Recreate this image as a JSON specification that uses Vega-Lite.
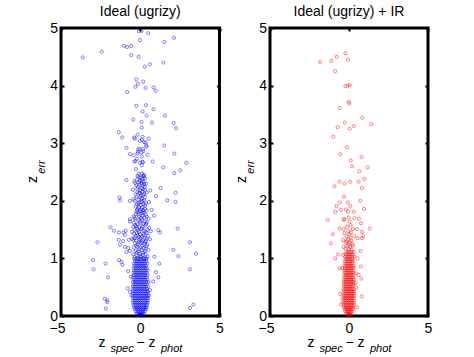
{
  "$schema": "https://vega.github.io/schema/vega-lite/v6.json",
  "background": "white",
  "padding": {"left": 23, "top": 3, "right": 5, "bottom": 0},
  "bounds": "flush",
  "spacing": 50,
  "config": {
    "font": "Liberation Sans",
    "view": {"stroke": "black", "strokeWidth": 3},
    "axis": {"grid": false, "domain": false, "labelFlush": false, "labelFont": "Liberation Sans", "labelFontSize": 14, "labelColor": "black", "tickColor": "black", "tickSize": -3, "tickWidth": 2, "titleColor": "black", "titleFontWeight": "normal", "titleFont": "Liberation Sans"},
    "title": {"font": "Liberation Sans", "fontSize": 14, "fontWeight": "normal", "color": "black", "baseline": "alphabetic", "offset": 2.5}
  },
  "datasets": {
    "L": [
      {"x":-0.08,"y":4.94},{"x":0.08,"y":4.95},{"x":0.51,"y":4.91},{"x":-0.02,"y":4.79},{"x":1.52,"y":4.76},{"x":2.13,"y":4.83},{"x":-1.03,"y":4.69},{"x":-0.82,"y":4.67},{"x":-0.57,"y":4.69},{"x":-2.43,"y":4.59},{"x":-3.63,"y":4.49},{"x":-0.57,"y":4.53},{"x":-0.1,"y":4.5},{"x":0.61,"y":4.37},{"x":0.29,"y":4.33},{"x":1.46,"y":4.4},{"x":-0.25,"y":4.11},{"x":0.19,"y":4.07},{"x":-0.15,"y":4.03},{"x":-0.3,"y":3.98},{"x":0.34,"y":3.96},{"x":0.84,"y":3.97},{"x":0.97,"y":3.91},{"x":-0.82,"y":3.89},{"x":-0.25,"y":3.65},{"x":0.36,"y":3.66},{"x":0.84,"y":3.59},{"x":0.15,"y":3.55},{"x":0.4,"y":3.48},{"x":1.56,"y":3.48},{"x":-0.44,"y":3.41},{"x":0.08,"y":3.37},{"x":0.74,"y":3.36},{"x":2.11,"y":3.35},{"x":2.26,"y":3.26},
      {"x":0.1,"y":3.27},{"x":-1.35,"y":3.19},{"x":-1.14,"y":3.1},{"x":-0.38,"y":3.1},{"x":-0.17,"y":3.15},{"x":0.15,"y":3.11},{"x":0.53,"y":3.08},{"x":0.1,"y":3.06},{"x":0.25,"y":3.02},{"x":-0.34,"y":3.08},{"x":-0.02,"y":3.04},{"x":0.34,"y":3.01},
      {"x":-0.87,"y":2.92},{"x":0.38,"y":2.96},{"x":1.52,"y":2.96},{"x":0.17,"y":2.9},{"x":-0.04,"y":2.9},{"x":-0.13,"y":2.89},{"x":0.4,"y":2.94},{"x":0.19,"y":2.86},{"x":-0.15,"y":2.85},{"x":-0.65,"y":2.81},{"x":-0.42,"y":2.79},{"x":0.08,"y":2.84},{"x":-0.17,"y":2.82},{"x":0.46,"y":2.8},{"x":2.15,"y":2.82},{"x":0.1,"y":2.77},{"x":-0.21,"y":2.73},{"x":-0.3,"y":2.69},{"x":0.13,"y":2.68},{"x":-0.38,"y":2.68},{"x":0.17,"y":2.67},{"x":0.78,"y":2.68},{"x":2.91,"y":2.66},{"x":0.1,"y":2.62},{"x":-0.02,"y":2.66},{"x":1.46,"y":2.58},{"x":2.53,"y":2.53},{"x":-0.27,"y":2.55},{"x":2.15,"y":2.48},{"x":-0.11,"y":2.47},{"x":0.1,"y":2.47},{"x":0.21,"y":2.42},{"x":0.25,"y":2.44},{"x":-0.06,"y":2.41},{"x":0.15,"y":2.38},{"x":-0.02,"y":2.35},{"x":0.3,"y":2.39},
      {"x":-0.87,"y":2.36},{"x":-0.38,"y":2.34},{"x":0.36,"y":2.3},{"x":0.08,"y":2.3},{"x":-0.13,"y":2.24},{"x":0.08,"y":2.22},{"x":0.3,"y":2.19},{"x":1.28,"y":2.22},{"x":0.63,"y":2.18},{"x":-0.46,"y":2.19},{"x":2.23,"y":2.14},{"x":-0.02,"y":2.13},{"x":0.19,"y":2.1},{"x":0.4,"y":2.14},{"x":0.99,"y":2.08},{"x":-1.31,"y":2.06},{"x":-1.27,"y":2.01},{"x":-0.65,"y":2.0},{"x":-0.42,"y":2.03},{"x":1.71,"y":2.01},{"x":2.23,"y":1.98},{"x":-0.02,"y":2.06},{"x":0.08,"y":1.98},{"x":0.25,"y":2.01},{"x":0.55,"y":1.98},{"x":-0.13,"y":1.96},{"x":-0.08,"y":1.89},{"x":0.19,"y":1.84},{"x":0.4,"y":1.83},{"x":0.72,"y":1.84},{"x":-0.23,"y":1.81},{"x":0.08,"y":1.78},{"x":-0.06,"y":1.72},{"x":0.25,"y":1.71},{"x":0.87,"y":1.74},{"x":-0.36,"y":1.7},
      {"x":0.02,"y":2.4},{"x":-0.2,"y":2.37},{"x":0.2,"y":2.33},{"x":-0.05,"y":2.28},{"x":0.15,"y":2.26},{"x":-0.25,"y":2.27},{"x":0.28,"y":2.24},{"x":0.0,"y":2.18},{"x":-0.18,"y":2.15},{"x":0.12,"y":2.16},{"x":-0.3,"y":2.11},{"x":0.05,"y":2.09},{"x":0.3,"y":2.06},{"x":-0.1,"y":2.02},{"x":0.14,"y":2.0},{"x":-0.22,"y":1.94},{"x":0.02,"y":1.93},{"x":0.3,"y":1.92},{"x":-0.15,"y":1.87},{"x":0.12,"y":1.88},{"x":0.0,"y":1.82},{"x":0.25,"y":1.79},{"x":-0.12,"y":1.76},{"x":0.15,"y":1.74},{"x":0.35,"y":1.76},{"x":-0.28,"y":1.77},{"x":0.05,"y":1.7},
      {"x":-0.16,"y":2.43},{"x":0.2,"y":2.45},{"x":-0.32,"y":2.31},{"x":0.1,"y":2.34},{"x":-0.08,"y":2.32},{"x":0.24,"y":2.29},{"x":-0.19,"y":2.21},{"x":0.18,"y":2.2},{"x":-0.06,"y":2.14},{"x":0.26,"y":2.12},{"x":-0.24,"y":2.07},{"x":0.1,"y":2.04},{"x":-0.35,"y":2.0},{"x":0.36,"y":1.95},{"x":-0.05,"y":1.97},{"x":0.2,"y":1.94},{"x":-0.3,"y":1.9},{"x":0.07,"y":1.85},{"x":-0.2,"y":1.84},{"x":0.3,"y":1.86},{"x":-0.1,"y":1.8},{"x":0.16,"y":1.8},{"x":-0.4,"y":1.73},{"x":0.42,"y":1.72},
      {"x":-1.88,"y":1.54},{"x":-1.66,"y":1.48},{"x":-1.35,"y":1.45},{"x":-1.06,"y":1.45},{"x":-0.91,"y":1.48},{"x":-0.97,"y":1.41},{"x":-0.65,"y":1.64},{"x":-0.65,"y":1.68},{"x":-0.51,"y":1.46},{"x":2.36,"y":1.52},{"x":1.14,"y":1.49},{"x":1.25,"y":1.45},{"x":-2.7,"y":1.28},{"x":-1.35,"y":1.32},{"x":-1.08,"y":1.3},{"x":-1.28,"y":1.24},{"x":-0.72,"y":1.32},{"x":-0.51,"y":1.34},{"x":3.14,"y":1.28},{"x":2.09,"y":1.15},{"x":3.52,"y":1.08},{"x":2.41,"y":1.04},{"x":-0.97,"y":1.2},{"x":-0.76,"y":1.18},{"x":-0.87,"y":1.11},{"x":-0.65,"y":1.13},{"x":0.89,"y":1.03},{"x":1.2,"y":0.91},
      {"x":-0.31,"y":1.68},{"x":-0.12,"y":1.66},{"x":0.11,"y":1.67},{"x":0.28,"y":1.64},{"x":0.52,"y":1.69},{"x":-0.41,"y":1.62},{"x":-0.18,"y":1.59},{"x":0.02,"y":1.61},{"x":0.21,"y":1.6},{"x":0.42,"y":1.63},{"x":-0.44,"y":1.55},{"x":-0.26,"y":1.56},{"x":-0.06,"y":1.54},{"x":0.16,"y":1.55},{"x":0.33,"y":1.57},{"x":0.57,"y":1.53},{"x":-0.36,"y":1.5},{"x":-0.14,"y":1.49},{"x":0.06,"y":1.51},{"x":0.24,"y":1.48},{"x":0.46,"y":1.5},{"x":0.66,"y":1.47},{"x":-0.39,"y":1.43},{"x":-0.21,"y":1.44},{"x":-0.01,"y":1.42},{"x":0.19,"y":1.43},{"x":0.41,"y":1.44},{"x":-0.29,"y":1.38},{"x":-0.09,"y":1.37},{"x":0.12,"y":1.38},{"x":0.31,"y":1.36},{"x":0.49,"y":1.39},{"x":-0.44,"y":1.32},{"x":-0.24,"y":1.31},{"x":-0.04,"y":1.33},{"x":0.14,"y":1.31},{"x":0.36,"y":1.3},{"x":0.61,"y":1.33},{"x":-0.34,"y":1.26},{"x":-0.16,"y":1.25},{"x":0.04,"y":1.27},{"x":0.26,"y":1.25},{"x":0.44,"y":1.24},{"x":-0.41,"y":1.19},{"x":-0.19,"y":1.2},{"x":0.01,"y":1.19},{"x":0.22,"y":1.18},{"x":0.39,"y":1.21},{"x":-0.31,"y":1.13},{"x":-0.11,"y":1.12},{"x":0.09,"y":1.14},{"x":0.29,"y":1.12},{"x":0.51,"y":1.15},{"x":-0.46,"y":1.07},{"x":-0.24,"y":1.06},{"x":-0.04,"y":1.08},{"x":0.16,"y":1.06},{"x":0.34,"y":1.08},{"x":-0.36,"y":1.02},{"x":-0.14,"y":1.01},{"x":0.06,"y":1.03},{"x":0.24,"y":1.01},{"x":0.46,"y":1.03},
      {"x":-0.02,"y":1.64},{"x":0.38,"y":1.6},{"x":-0.32,"y":1.58},{"x":0.12,"y":1.52},{"x":-0.2,"y":1.52},{"x":0.34,"y":1.46},{"x":-0.08,"y":1.46},{"x":0.22,"y":1.4},{"x":-0.18,"y":1.4},{"x":0.02,"y":1.35},{"x":0.4,"y":1.34},{"x":-0.36,"y":1.35},{"x":0.08,"y":1.29},{"x":-0.1,"y":1.28},{"x":0.3,"y":1.28},{"x":-0.26,"y":1.22},{"x":0.12,"y":1.22},{"x":-0.06,"y":1.16},{"x":0.34,"y":1.17},{"x":-0.22,"y":1.1},{"x":0.18,"y":1.1},{"x":-0.02,"y":1.04},{"x":0.4,"y":1.0},
      {"x":-2.97,"y":0.97},{"x":-2.95,"y":0.81},{"x":-2.19,"y":0.91},{"x":-1.33,"y":0.97},{"x":-1.18,"y":0.94},{"x":-1.12,"y":0.89},{"x":3.14,"y":0.81},{"x":-2.03,"y":0.67},{"x":-0.76,"y":0.78},{"x":-0.59,"y":0.68},{"x":1.14,"y":0.67},{"x":0.99,"y":0.76},{"x":0.82,"y":0.6},{"x":-0.8,"y":0.48},{"x":-0.65,"y":0.42},{"x":-0.55,"y":0.36},{"x":0.61,"y":0.45},{"x":0.55,"y":0.36},{"x":-2.23,"y":0.3},{"x":-2.09,"y":0.27},{"x":-2.07,"y":0.24},{"x":-2.17,"y":0.13},{"x":3.35,"y":0.2},{"x":3.14,"y":0.14},
      {"x":-0.14,"y":0.02},{"x":-0.04,"y":0.02},{"x":0.06,"y":0.02},{"x":0.16,"y":0.02},
      {"x":-0.21,"y":0.05},{"x":-0.09,"y":0.05},{"x":0.02,"y":0.05},{"x":0.13,"y":0.05},{"x":0.23,"y":0.05},
      {"x":-0.28,"y":0.08},{"x":-0.16,"y":0.08},{"x":-0.05,"y":0.08},{"x":0.07,"y":0.08},{"x":0.18,"y":0.08},{"x":0.29,"y":0.08},
      {"x":-0.34,"y":0.12},{"x":-0.22,"y":0.12},{"x":-0.1,"y":0.12},{"x":0.02,"y":0.12},{"x":0.14,"y":0.12},{"x":0.26,"y":0.12},{"x":0.36,"y":0.12},
      {"x":-0.39,"y":0.15},{"x":-0.27,"y":0.15},{"x":-0.15,"y":0.15},{"x":-0.03,"y":0.15},{"x":0.09,"y":0.15},{"x":0.21,"y":0.15},{"x":0.33,"y":0.15},{"x":0.41,"y":0.15},
      {"x":-0.42,"y":0.19},{"x":-0.3,"y":0.19},{"x":-0.18,"y":0.19},{"x":-0.06,"y":0.19},{"x":0.06,"y":0.19},{"x":0.18,"y":0.19},{"x":0.3,"y":0.19},{"x":0.42,"y":0.19},
      {"x":-0.45,"y":0.23},{"x":-0.33,"y":0.23},{"x":-0.21,"y":0.23},{"x":-0.09,"y":0.23},{"x":0.03,"y":0.23},{"x":0.15,"y":0.23},{"x":0.27,"y":0.23},{"x":0.39,"y":0.23},{"x":0.47,"y":0.23},
      {"x":-0.46,"y":0.27},{"x":-0.34,"y":0.27},{"x":-0.22,"y":0.27},{"x":-0.1,"y":0.27},{"x":0.02,"y":0.27},{"x":0.14,"y":0.27},{"x":0.26,"y":0.27},{"x":0.38,"y":0.27},{"x":0.48,"y":0.27},
      {"x":-0.44,"y":0.31},{"x":-0.31,"y":0.31},{"x":-0.19,"y":0.31},{"x":-0.07,"y":0.31},{"x":0.05,"y":0.31},{"x":0.17,"y":0.31},{"x":0.29,"y":0.31},{"x":0.41,"y":0.31},{"x":0.5,"y":0.31},
      {"x":-0.47,"y":0.35},{"x":-0.35,"y":0.35},{"x":-0.23,"y":0.35},{"x":-0.11,"y":0.35},{"x":0.01,"y":0.35},{"x":0.13,"y":0.35},{"x":0.25,"y":0.35},{"x":0.37,"y":0.35},{"x":0.47,"y":0.35},
      {"x":-0.45,"y":0.39},{"x":-0.32,"y":0.39},{"x":-0.2,"y":0.39},{"x":-0.08,"y":0.39},{"x":0.04,"y":0.39},{"x":0.16,"y":0.39},{"x":0.28,"y":0.39},{"x":0.4,"y":0.39},{"x":0.49,"y":0.39},
      {"x":-0.46,"y":0.43},{"x":-0.34,"y":0.43},{"x":-0.22,"y":0.43},{"x":-0.1,"y":0.43},{"x":0.02,"y":0.43},{"x":0.14,"y":0.43},{"x":0.26,"y":0.43},{"x":0.38,"y":0.43},{"x":0.48,"y":0.43},
      {"x":-0.44,"y":0.47},{"x":-0.31,"y":0.47},{"x":-0.19,"y":0.47},{"x":-0.07,"y":0.47},{"x":0.05,"y":0.47},{"x":0.17,"y":0.47},{"x":0.29,"y":0.47},{"x":0.42,"y":0.47},
      {"x":-0.47,"y":0.51},{"x":-0.35,"y":0.51},{"x":-0.23,"y":0.51},{"x":-0.11,"y":0.51},{"x":0.01,"y":0.51},{"x":0.13,"y":0.51},{"x":0.25,"y":0.51},{"x":0.37,"y":0.51},{"x":0.5,"y":0.51},
      {"x":-0.43,"y":0.55},{"x":-0.3,"y":0.55},{"x":-0.18,"y":0.55},{"x":-0.06,"y":0.55},{"x":0.06,"y":0.55},{"x":0.18,"y":0.55},{"x":0.3,"y":0.55},{"x":0.43,"y":0.55},
      {"x":-0.45,"y":0.59},{"x":-0.33,"y":0.59},{"x":-0.21,"y":0.59},{"x":-0.09,"y":0.59},{"x":0.03,"y":0.59},{"x":0.15,"y":0.59},{"x":0.27,"y":0.59},{"x":0.4,"y":0.59},{"x":0.52,"y":0.59},
      {"x":-0.42,"y":0.63},{"x":-0.29,"y":0.63},{"x":-0.17,"y":0.63},{"x":-0.05,"y":0.63},{"x":0.07,"y":0.63},{"x":0.19,"y":0.63},{"x":0.31,"y":0.63},{"x":0.44,"y":0.63},
      {"x":-0.44,"y":0.67},{"x":-0.32,"y":0.67},{"x":-0.2,"y":0.67},{"x":-0.08,"y":0.67},{"x":0.04,"y":0.67},{"x":0.16,"y":0.67},{"x":0.28,"y":0.67},{"x":0.41,"y":0.67},
      {"x":-0.4,"y":0.71},{"x":-0.27,"y":0.71},{"x":-0.15,"y":0.71},{"x":-0.03,"y":0.71},{"x":0.09,"y":0.71},{"x":0.21,"y":0.71},{"x":0.33,"y":0.71},{"x":0.46,"y":0.71},
      {"x":-0.43,"y":0.75},{"x":-0.31,"y":0.75},{"x":-0.19,"y":0.75},{"x":-0.07,"y":0.75},{"x":0.05,"y":0.75},{"x":0.17,"y":0.75},{"x":0.29,"y":0.75},{"x":0.4,"y":0.75},
      {"x":-0.38,"y":0.79},{"x":-0.26,"y":0.79},{"x":-0.14,"y":0.79},{"x":-0.02,"y":0.79},{"x":0.1,"y":0.79},{"x":0.22,"y":0.79},{"x":0.34,"y":0.79},{"x":0.47,"y":0.79},
      {"x":-0.41,"y":0.83},{"x":-0.29,"y":0.83},{"x":-0.17,"y":0.83},{"x":-0.05,"y":0.83},{"x":0.07,"y":0.83},{"x":0.19,"y":0.83},{"x":0.31,"y":0.83},{"x":0.42,"y":0.83},
      {"x":-0.36,"y":0.87},{"x":-0.24,"y":0.87},{"x":-0.12,"y":0.87},{"x":0.0,"y":0.87},{"x":0.12,"y":0.87},{"x":0.24,"y":0.87},{"x":0.36,"y":0.87},
      {"x":-0.4,"y":0.91},{"x":-0.28,"y":0.91},{"x":-0.16,"y":0.91},{"x":-0.04,"y":0.91},{"x":0.08,"y":0.91},{"x":0.2,"y":0.91},{"x":0.32,"y":0.91},{"x":0.45,"y":0.91},
      {"x":-0.34,"y":0.95},{"x":-0.22,"y":0.95},{"x":-0.1,"y":0.95},{"x":0.02,"y":0.95},{"x":0.14,"y":0.95},{"x":0.26,"y":0.95},{"x":0.38,"y":0.95},
      {"x":-0.37,"y":0.99},{"x":-0.25,"y":0.99},{"x":-0.13,"y":0.99},{"x":-0.01,"y":0.99},{"x":0.11,"y":0.99},{"x":0.23,"y":0.99},{"x":0.35,"y":0.99}
    ],
    "R": [
      {"x":-0.23,"y":4.56},{"x":-0.78,"y":4.5},{"x":-0.06,"y":4.45},{"x":-1.82,"y":4.41},{"x":-1.12,"y":4.43},{"x":-0.87,"y":4.25},{"x":-0.23,"y":3.99},{"x":0.04,"y":4.01},{"x":-0.08,"y":4.0},{"x":-0.02,"y":3.72},{"x":0.02,"y":3.69},{"x":-0.59,"y":3.61},{"x":0.84,"y":3.44},{"x":-0.27,"y":3.36},{"x":1.41,"y":3.33},{"x":0.3,"y":3.3},{"x":-0.72,"y":3.28},{"x":0.04,"y":3.25},{"x":-0.99,"y":3.11},{"x":-0.13,"y":2.93},{"x":-0.55,"y":2.81},{"x":0.8,"y":2.76},{"x":0.11,"y":2.7},{"x":0.19,"y":2.6},{"x":1.18,"y":2.58},{"x":0.65,"y":2.51},{"x":-0.59,"y":2.33},{"x":-0.27,"y":2.3},{"x":0.08,"y":2.33},{"x":0.61,"y":2.33},{"x":0.97,"y":2.38},{"x":0.82,"y":2.22},{"x":-0.93,"y":2.25},{"x":-0.32,"y":2.07},{"x":-0.08,"y":1.97},{"x":-0.59,"y":1.97},{"x":-0.8,"y":1.91},{"x":0.08,"y":1.91},{"x":0.72,"y":2.0},{"x":0.95,"y":1.86},{"x":-0.87,"y":1.81},{"x":-0.51,"y":1.84},{"x":-0.19,"y":1.85},{"x":-0.06,"y":1.81},{"x":0.3,"y":1.81},{"x":-0.02,"y":1.71},{"x":-0.3,"y":1.68},{"x":0.63,"y":1.69},{"x":-1.35,"y":1.67},{"x":-0.34,"y":1.67},{"x":0.02,"y":1.64},{"x":0.34,"y":1.7},{"x":0.76,"y":1.61},{"x":-0.59,"y":1.52},{"x":-0.34,"y":1.51},{"x":0.25,"y":1.51},{"x":0.51,"y":1.51},{"x":1.31,"y":1.52},{"x":0.82,"y":1.46},{"x":0.89,"y":1.39},{"x":0.82,"y":1.35},{"x":-1.03,"y":1.42},{"x":-0.3,"y":1.44},{"x":0.02,"y":1.42},{"x":0.34,"y":1.39},{"x":0.55,"y":1.35},{"x":-1.14,"y":1.26},{"x":-0.38,"y":1.32},{"x":-0.13,"y":1.3},{"x":-0.02,"y":1.24},{"x":-0.34,"y":1.2},{"x":0.25,"y":1.22},{"x":0.72,"y":1.13},{"x":-0.7,"y":1.07},{"x":-0.87,"y":1.0},{"x":-0.38,"y":1.06},{"x":0.3,"y":1.11},{"x":0.34,"y":1.03},{"x":0.55,"y":1.0},{"x":-0.59,"y":0.83},{"x":-0.42,"y":0.83},{"x":0.74,"y":0.86},{"x":0.46,"y":0.74},{"x":0.61,"y":0.71},{"x":0.78,"y":0.65},{"x":0.4,"y":0.57},{"x":0.46,"y":0.49},{"x":-0.55,"y":0.38},{"x":0.8,"y":0.34},{"x":-0.51,"y":0.2},{"x":0.51,"y":0.15},
      {"x":-0.15,"y":1.38},{"x":0.1,"y":1.36},{"x":-0.05,"y":1.33},{"x":0.15,"y":1.31},{"x":-0.2,"y":1.28},{"x":0.05,"y":1.27},{"x":0.2,"y":1.25},{"x":-0.1,"y":1.22},{"x":0.08,"y":1.2},{"x":-0.22,"y":1.17},{"x":0.0,"y":1.16},{"x":0.16,"y":1.15},{"x":-0.12,"y":1.55},{"x":0.1,"y":1.58},{"x":-0.05,"y":1.47},{"x":0.12,"y":1.45},
      {"x":-0.1,"y":0.02},{"x":0.0,"y":0.02},{"x":0.1,"y":0.02},
      {"x":-0.17,"y":0.05},{"x":-0.06,"y":0.05},{"x":0.05,"y":0.05},{"x":0.15,"y":0.05},
      {"x":-0.23,"y":0.08},{"x":-0.12,"y":0.08},{"x":-0.01,"y":0.08},{"x":0.1,"y":0.08},{"x":0.2,"y":0.08},
      {"x":-0.28,"y":0.12},{"x":-0.17,"y":0.12},{"x":-0.06,"y":0.12},{"x":0.05,"y":0.12},{"x":0.16,"y":0.12},{"x":0.26,"y":0.12},
      {"x":-0.31,"y":0.15},{"x":-0.2,"y":0.15},{"x":-0.09,"y":0.15},{"x":0.02,"y":0.15},{"x":0.13,"y":0.15},{"x":0.24,"y":0.15},
      {"x":-0.34,"y":0.19},{"x":-0.23,"y":0.19},{"x":-0.12,"y":0.19},{"x":-0.01,"y":0.19},{"x":0.1,"y":0.19},{"x":0.21,"y":0.19},{"x":0.31,"y":0.19},
      {"x":-0.36,"y":0.23},{"x":-0.25,"y":0.23},{"x":-0.14,"y":0.23},{"x":-0.03,"y":0.23},{"x":0.08,"y":0.23},{"x":0.19,"y":0.23},{"x":0.3,"y":0.23},
      {"x":-0.35,"y":0.27},{"x":-0.24,"y":0.27},{"x":-0.13,"y":0.27},{"x":-0.02,"y":0.27},{"x":0.09,"y":0.27},{"x":0.2,"y":0.27},{"x":0.31,"y":0.27},
      {"x":-0.37,"y":0.31},{"x":-0.26,"y":0.31},{"x":-0.15,"y":0.31},{"x":-0.04,"y":0.31},{"x":0.07,"y":0.31},{"x":0.18,"y":0.31},{"x":0.29,"y":0.31},
      {"x":-0.33,"y":0.35},{"x":-0.22,"y":0.35},{"x":-0.11,"y":0.35},{"x":0.0,"y":0.35},{"x":0.11,"y":0.35},{"x":0.22,"y":0.35},{"x":0.32,"y":0.35},
      {"x":-0.35,"y":0.39},{"x":-0.24,"y":0.39},{"x":-0.13,"y":0.39},{"x":-0.02,"y":0.39},{"x":0.09,"y":0.39},{"x":0.2,"y":0.39},{"x":0.3,"y":0.39},
      {"x":-0.32,"y":0.43},{"x":-0.21,"y":0.43},{"x":-0.1,"y":0.43},{"x":0.01,"y":0.43},{"x":0.12,"y":0.43},{"x":0.23,"y":0.43},{"x":0.33,"y":0.43},
      {"x":-0.34,"y":0.47},{"x":-0.23,"y":0.47},{"x":-0.12,"y":0.47},{"x":-0.01,"y":0.47},{"x":0.1,"y":0.47},{"x":0.21,"y":0.47},{"x":0.29,"y":0.47},
      {"x":-0.31,"y":0.51},{"x":-0.2,"y":0.51},{"x":-0.09,"y":0.51},{"x":0.02,"y":0.51},{"x":0.13,"y":0.51},{"x":0.24,"y":0.51},
      {"x":-0.33,"y":0.55},{"x":-0.22,"y":0.55},{"x":-0.11,"y":0.55},{"x":0.0,"y":0.55},{"x":0.11,"y":0.55},{"x":0.22,"y":0.55},{"x":0.3,"y":0.55},
      {"x":-0.3,"y":0.59},{"x":-0.19,"y":0.59},{"x":-0.08,"y":0.59},{"x":0.03,"y":0.59},{"x":0.14,"y":0.59},{"x":0.25,"y":0.59},
      {"x":-0.32,"y":0.63},{"x":-0.21,"y":0.63},{"x":-0.1,"y":0.63},{"x":0.01,"y":0.63},{"x":0.12,"y":0.63},{"x":0.23,"y":0.63},{"x":0.31,"y":0.63},
      {"x":-0.28,"y":0.67},{"x":-0.17,"y":0.67},{"x":-0.06,"y":0.67},{"x":0.05,"y":0.67},{"x":0.16,"y":0.67},{"x":0.27,"y":0.67},
      {"x":-0.3,"y":0.71},{"x":-0.19,"y":0.71},{"x":-0.08,"y":0.71},{"x":0.03,"y":0.71},{"x":0.14,"y":0.71},{"x":0.25,"y":0.71},
      {"x":-0.27,"y":0.75},{"x":-0.16,"y":0.75},{"x":-0.05,"y":0.75},{"x":0.06,"y":0.75},{"x":0.17,"y":0.75},{"x":0.28,"y":0.75},
      {"x":-0.29,"y":0.79},{"x":-0.18,"y":0.79},{"x":-0.07,"y":0.79},{"x":0.04,"y":0.79},{"x":0.15,"y":0.79},{"x":0.26,"y":0.79},
      {"x":-0.25,"y":0.83},{"x":-0.14,"y":0.83},{"x":-0.03,"y":0.83},{"x":0.08,"y":0.83},{"x":0.19,"y":0.83},{"x":0.29,"y":0.83},
      {"x":-0.27,"y":0.87},{"x":-0.16,"y":0.87},{"x":-0.05,"y":0.87},{"x":0.06,"y":0.87},{"x":0.17,"y":0.87},{"x":0.27,"y":0.87},
      {"x":-0.24,"y":0.91},{"x":-0.13,"y":0.91},{"x":-0.02,"y":0.91},{"x":0.09,"y":0.91},{"x":0.2,"y":0.91},
      {"x":-0.26,"y":0.95},{"x":-0.15,"y":0.95},{"x":-0.04,"y":0.95},{"x":0.07,"y":0.95},{"x":0.18,"y":0.95},{"x":0.27,"y":0.95},
      {"x":-0.22,"y":0.99},{"x":-0.11,"y":0.99},{"x":0.0,"y":0.99},{"x":0.11,"y":0.99},{"x":0.22,"y":0.99},
      {"x":-0.24,"y":1.03},{"x":-0.13,"y":1.03},{"x":-0.02,"y":1.03},{"x":0.09,"y":1.03},{"x":0.2,"y":1.03},
      {"x":-0.2,"y":1.07},{"x":-0.09,"y":1.07},{"x":0.02,"y":1.07},{"x":0.13,"y":1.07},{"x":0.23,"y":1.07},
      {"x":-0.17,"y":1.11},{"x":-0.06,"y":1.11},{"x":0.05,"y":1.11},{"x":0.16,"y":1.11}
    ]
  },
  "hconcat": [
    {
      "width": 158.5, "height": 288,
      "title": "Ideal (ugrizy)",
      "resolve": {"axis": {"x": "independent", "y": "independent"}},
      "layer": [
        {
          "data": {"name": "L"},
          "mark": {"type": "point", "shape": "circle", "filled": false, "size": 10, "strokeWidth": 0.7, "color": "#0000ff"},
          "encoding": {
            "x": {"field": "x", "type": "quantitative", "scale": {"domain": [-5, 5], "nice": false, "zero": false},
                  "axis": {"orient": "bottom", "values": [-5, 0, 5], "labelPadding": 8, "labelOffset": {"expr": "datum.value < 0 ? -4 : 0"}, "title": "z", "titleFontSize": 14, "titleAlign": "left", "titleBaseline": "alphabetic", "titleX": 37, "titleY": 30}},
            "y": {"field": "y", "type": "quantitative", "scale": {"domain": [0, 5], "nice": false, "zero": false},
                  "axis": {"orient": "left", "values": [0, 1, 2, 3, 4, 5], "labelPadding": 6.5, "title": "z", "titleFontSize": 14, "titleAngle": 270, "titleAlign": "center", "titleBaseline": "alphabetic", "titleX": -25, "titleY": 151}}
          }
        },
        {
          "data": {"values": [{}]},
          "mark": {"type": "point", "opacity": 0},
          "encoding": {
            "x": {"datum": 0, "type": "quantitative",
                  "axis": {"orient": "top", "values": [-5, 0, 5], "labels": false, "title": "spec", "titleFontSize": 11, "titleFontStyle": "italic", "titleAlign": "left", "titleAngle": 0, "titleBaseline": "alphabetic", "titleX": 49, "titleY": 323}},
            "y": {"datum": 0, "type": "quantitative",
                  "axis": {"orient": "right", "values": [0, 1, 2, 3, 4, 5], "labels": false, "title": "err", "titleFontSize": 11, "titleFontStyle": "italic", "titleAngle": 270, "titleAlign": "center", "titleBaseline": "alphabetic", "titleX": -175.5, "titleY": 138.5}}
          }
        },
        {
          "data": {"values": [{}]},
          "mark": {"type": "point", "opacity": 0},
          "encoding": {
            "x": {"datum": 0, "type": "quantitative",
                  "axis": {"orient": "bottom", "ticks": false, "labels": false, "title": "\u2212\u00a0z", "titleFontSize": 14, "titleAlign": "left", "titleAngle": 0, "titleBaseline": "alphabetic", "titleX": 75, "titleY": 30}}
          }
        },
        {
          "data": {"values": [{}]},
          "mark": {"type": "point", "opacity": 0},
          "encoding": {
            "x": {"datum": 0, "type": "quantitative",
                  "axis": {"orient": "top", "ticks": false, "labels": false, "title": "phot", "titleFontSize": 11, "titleFontStyle": "italic", "titleAlign": "left", "titleAngle": 0, "titleBaseline": "alphabetic", "titleX": 99.5, "titleY": 323}}
          }
        }
      ]
    },
    {
      "width": 158, "height": 288,
      "title": "Ideal (ugrizy) + IR",
      "resolve": {"axis": {"x": "independent", "y": "independent"}},
      "layer": [
        {
          "data": {"name": "R"},
          "mark": {"type": "point", "shape": "circle", "filled": false, "size": 10, "strokeWidth": 0.7, "color": "#ff0000"},
          "encoding": {
            "x": {"field": "x", "type": "quantitative", "scale": {"domain": [-5, 5], "nice": false, "zero": false},
                  "axis": {"orient": "bottom", "values": [-5, 0, 5], "labelPadding": 8, "labelOffset": {"expr": "datum.value < 0 ? -4 : 0"}, "title": "z", "titleFontSize": 14, "titleAlign": "left", "titleBaseline": "alphabetic", "titleX": 37, "titleY": 30}},
            "y": {"field": "y", "type": "quantitative", "scale": {"domain": [0, 5], "nice": false, "zero": false},
                  "axis": {"orient": "left", "values": [0, 1, 2, 3, 4, 5], "labelPadding": 6.5, "title": "z", "titleFontSize": 14, "titleAngle": 270, "titleAlign": "center", "titleBaseline": "alphabetic", "titleX": -25, "titleY": 151}}
          }
        },
        {
          "data": {"values": [{}]},
          "mark": {"type": "point", "opacity": 0},
          "encoding": {
            "x": {"datum": 0, "type": "quantitative",
                  "axis": {"orient": "top", "values": [-5, 0, 5], "labels": false, "title": "spec", "titleFontSize": 11, "titleFontStyle": "italic", "titleAlign": "left", "titleAngle": 0, "titleBaseline": "alphabetic", "titleX": 49, "titleY": 323}},
            "y": {"datum": 0, "type": "quantitative",
                  "axis": {"orient": "right", "values": [0, 1, 2, 3, 4, 5], "labels": false, "title": "err", "titleFontSize": 11, "titleFontStyle": "italic", "titleAngle": 270, "titleAlign": "center", "titleBaseline": "alphabetic", "titleX": -175, "titleY": 138.5}}
          }
        },
        {
          "data": {"values": [{}]},
          "mark": {"type": "point", "opacity": 0},
          "encoding": {
            "x": {"datum": 0, "type": "quantitative",
                  "axis": {"orient": "bottom", "ticks": false, "labels": false, "title": "\u2212\u00a0z", "titleFontSize": 14, "titleAlign": "left", "titleAngle": 0, "titleBaseline": "alphabetic", "titleX": 75, "titleY": 30}}
          }
        },
        {
          "data": {"values": [{}]},
          "mark": {"type": "point", "opacity": 0},
          "encoding": {
            "x": {"datum": 0, "type": "quantitative",
                  "axis": {"orient": "top", "ticks": false, "labels": false, "title": "phot", "titleFontSize": 11, "titleFontStyle": "italic", "titleAlign": "left", "titleAngle": 0, "titleBaseline": "alphabetic", "titleX": 99.5, "titleY": 323}}
          }
        }
      ]
    }
  ]
}
